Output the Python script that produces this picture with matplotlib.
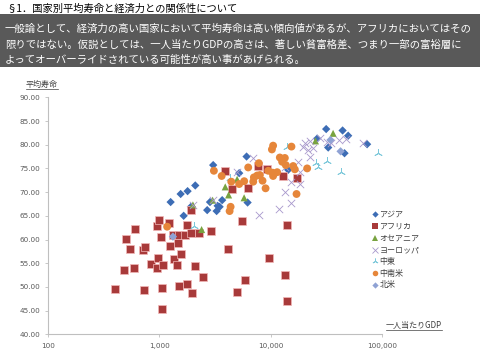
import matplotlib
matplotlib.use('Agg')
import matplotlib.pyplot as plt
from matplotlib.lines import Line2D
from matplotlib.patches import Rectangle
from matplotlib.ticker import FixedLocator, FixedFormatter, NullLocator

plt.rcParams['font.family'] = ['Noto Sans CJK JP', 'DejaVu Sans']

# ---------------- data ----------------
series_names = ['アジア', 'アフリカ', 'オセアニア', 'ヨーロッパ', '中東', '中南米', '北米']

asia_gdp = [1660, 1928, 2700, 3280, 1268, 1560, 1800, 2110, 2860, 3350, 3490, 3680,
            3055, 5230, 6090, 6220, 14400, 26200, 31550, 44300, 49700, 73500, 32900, 46100]
asia_life = [65.0, 66.9, 66.2, 66.0, 67.9, 69.6, 70.2, 71.4, 67.9, 67.1, 66.9, 68.3,
             75.7, 74.0, 77.5, 67.8, 74.7, 81.3, 83.3, 83.0, 81.9, 80.1, 79.4, 78.2]

africa_gdp = [404, 483, 501, 543, 598, 611, 721, 750, 726, 850, 962, 989, 976, 955, 1075,
              1059, 1066, 1038, 1233, 1250, 1339, 1367, 1436, 1466, 1515, 1559, 1506, 1703,
              1765, 1775, 1917, 1928, 1982, 2095, 2260, 2473, 2934, 4110, 5012, 3890, 4500,
              5560, 5850, 9600, 14000, 13600, 14100, 7640, 9200, 12970, 17330, 6250]
africa_life = [49.6, 53.5, 60.1, 58.1, 54.0, 62.2, 57.8, 58.5, 49.3, 54.8, 62.8, 64.1, 56.0,
               53.9, 54.6, 49.8, 45.3, 60.6, 63.4, 58.6, 60.9, 55.8, 54.6, 59.2, 61.0, 57.0,
               50.2, 60.9, 63.1, 50.6, 61.3, 66.2, 48.8, 54.5, 61.3, 52.0, 61.7, 58.1, 48.9,
               74.5, 70.7, 63.8, 51.5, 56.2, 63.1, 52.5, 47.1, 75.5, 74.9, 73.3, 73.0, 70.8]

oceania_gdp = [2405, 2010, 3020, 3920, 4200, 5010, 5790, 25300, 36400]
oceania_life = [62.1, 67.3, 68.3, 71.1, 69.4, 72.7, 68.8, 80.8, 82.4]

europe_gdp = [5010, 6900, 7900, 11900, 13400, 13400, 15400, 15400, 18300, 17700, 18300,
              19600, 20300, 21700, 22500, 22500, 23800, 27700, 31800, 35200, 41200, 47600,
              67600, 2010, 3020]
europe_life = [74.3, 77.1, 65.2, 66.4, 70.0, 75.2, 67.8, 72.2, 71.7, 76.4, 74.3,
               79.6, 80.4, 78.9, 77.5, 80.8, 79.4, 81.5, 80.5, 80.3, 81.0, 81.1,
               80.3, 67.3, 68.3]

mideast_gdp = [2065, 4310, 13900, 25800, 26700, 32200, 42500, 91600]
mideast_life = [62.9, 73.0, 79.6, 76.1, 75.2, 76.6, 74.2, 78.2]

latam_gdp = [1180, 3100, 3640, 4290, 4380, 4440, 5230, 5800, 6300, 6990, 7080, 7580, 7850,
             8020, 8470, 9020, 9530, 10280, 10420, 10540, 10540, 11460, 12110, 12700, 13430,
             13700, 15400, 15950, 16500, 17100, 21300]
latam_life = [62.7, 74.5, 73.4, 66.0, 66.9, 72.2, 71.7, 72.3, 75.2, 72.2, 73.1, 73.5, 76.1,
              73.6, 72.4, 70.8, 74.5, 79.0, 74.1, 79.8, 73.4, 74.2, 77.3, 76.4, 77.2,
              75.7, 79.6, 75.5, 74.8, 69.6, 75.0]

namerica_gdp = [34500, 42500, 1330]
namerica_life = [81.0, 78.6, 60.6]

x_ticks = [100, 1000, 10000, 100000]
x_tick_labels = ['100', '1,000', '10,000', '100,000']
y_ticks = [40, 45, 50, 55, 60, 65, 70, 75, 80, 85, 90]

title_text = '§1．国家別平均寿命と経済力との関係性について'
body_lines = ['一般論として、経済力の高い国家において平均寿命は高い傾向値があるが、アフリカにおいてはその',
              '限りではない。仮説としては、一人当たりGDPの高さは、著しい貧富格差、つまり一部の富裕層に',
              'よってオーバーライドされている可能性が高い事があげられる。']
y_title = '平均寿命'
x_title = '一人当たりGDP'

# ---------------- figure ----------------
W, H = 480, 360
fig = plt.figure(figsize=(4.8, 3.6), dpi=100)

def fx(px):
    return px / W

def fy(py):
    return 1 - py / H

# header
fig.text(fx(6), fy(8.5), title_text, fontsize=7.4, color='#000000', va='center', ha='left')
fig.add_artist(Rectangle((0, fy(67)), 1, (67 - 14) / H, transform=fig.transFigure,
                         facecolor='#595959', edgecolor='none'))
for i, line in enumerate(body_lines):
    fig.text(fx(5), fy(28.5 + i * 15.7), line, fontsize=7.5, color='white', va='center', ha='left')

# axes
left, right, top, bottom = 47.7, 382, 97.3, 334.3
ax = fig.add_axes([fx(left), fy(bottom), (right - left) / W, (bottom - top) / H])
ax.set_xscale('log')
ax.set_xlim(100, 100000)
ax.set_ylim(40, 90)

styles = [
    dict(marker='D', s=18, color='#3D6DB5', edgecolors='none'),
    dict(marker='s', s=32, color='#A83A3A', edgecolors='#F2B8B8', linewidths=0.5),
    dict(marker='^', s=26, color='#78A340', edgecolors='none'),
    dict(marker='x', s=28, color='#A898CC', linewidths=0.6),
    dict(marker=(3, 2, 0), s=32, color='#7CC8DA', linewidths=0.6),
    dict(marker='o', s=32, color='#E6863A', edgecolors='none'),
    dict(marker='D', s=18, color='#8FA2D4', edgecolors='none'),
]
data = [(asia_gdp, asia_life), (africa_gdp, africa_life), (oceania_gdp, oceania_life),
        (europe_gdp, europe_life), (mideast_gdp, mideast_life), (latam_gdp, latam_life),
        (namerica_gdp, namerica_life)]
for (xs, ys), st in zip(data, styles):
    ax.scatter(xs, ys, zorder=3, **st)

for sp in ['top', 'right']:
    ax.spines[sp].set_visible(False)
for sp in ['left', 'bottom']:
    ax.spines[sp].set_color('#BFBFBF')
    ax.spines[sp].set_linewidth(0.8)

ax.xaxis.set_major_locator(FixedLocator(x_ticks))
ax.xaxis.set_major_formatter(FixedFormatter(x_tick_labels))
ax.xaxis.set_minor_locator(NullLocator())
ax.set_yticks(y_ticks)
ax.set_yticklabels(['%.2f' % v for v in y_ticks])
ax.tick_params(axis='both', colors='#BFBFBF', labelcolor='#595959', labelsize=5.2,
               length=2.5, width=0.6)
ax.tick_params(axis='x', pad=4)
ax.tick_params(axis='y', pad=3)
for lab in ax.get_xticklabels() + ax.get_yticklabels():
    lab.set_family(['DejaVu Sans'])

# legend (manual)
leg_y0, leg_dy = 214.3, 11.75
for i, (name, st) in enumerate(zip(series_names, styles)):
    yy = fy(leg_y0 + i * leg_dy)
    mk = st['marker']
    ms = {'D': 3.2, 's': 4.0, '^': 4.2, 'x': 4.2, 'o': 4.0}.get(mk if isinstance(mk, str) else 'x', 4.2)
    fig.add_artist(Line2D([fx(374.7)], [yy], transform=fig.transFigure, marker=mk,
                          markersize=ms, color=st['color'], linestyle='none',
                          markeredgewidth=0.6 if mk in ['x', (3, 2, 0)] else 0,
                          markerfacecolor=st['color']))
    fig.text(fx(379.5), yy, name, fontsize=5.8, color='#404040', va='center', ha='left')

# axis titles with underline
t1 = fig.text(fx(26), fy(84), y_title, fontsize=5.8, color='#404040', va='center', ha='left')
t2 = fig.text(fx(386), fy(325.5), x_title, fontsize=5.8, color='#404040', va='center', ha='left')
fig.canvas.draw()
r = fig.canvas.get_renderer()
for t, uy in [(t1, 88.5), (t2, 329.5)]:
    bb = t.get_window_extent(r)
    fig.add_artist(Line2D([bb.x0 / W, bb.x1 / W], [fy(uy), fy(uy)], transform=fig.transFigure,
                          color='#404040', linewidth=0.5))

fig.savefig('out.png', dpi=100)
